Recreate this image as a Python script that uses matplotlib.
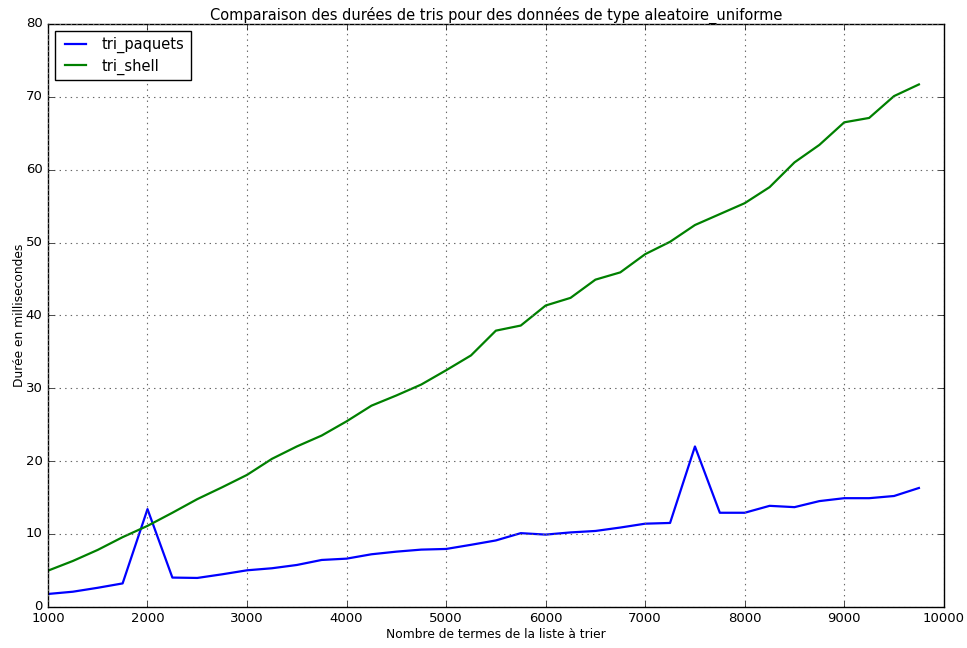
import matplotlib
matplotlib.use("Agg")
import matplotlib.pyplot as plt

plt.style.use("classic")

sizes = list(range(1000, 10000, 250))
tri_paquets = [1.75, 2.06, 2.6, 3.2, 13.4, 4.0, 3.95, 4.45, 5.0, 5.28, 5.73, 6.42,
               6.6, 7.2, 7.56, 7.84, 7.93, 8.5, 9.1, 10.1, 9.9, 10.2, 10.4, 10.87,
               11.4, 11.5, 22.0, 12.9, 12.9, 13.85, 13.67, 14.5, 14.9, 14.9, 15.2, 16.3]
tri_shell = [4.95, 6.28, 7.8, 9.55, 11.1, 12.9, 14.77, 16.4, 18.1, 20.3, 22.0, 23.5,
             25.45, 27.6, 29.0, 30.5, 32.46, 34.5, 37.9, 38.6, 41.35, 42.4, 44.9, 45.9,
             48.4, 50.1, 52.4, 53.9, 55.4, 57.6, 61.0, 63.4, 66.5, 67.1, 70.1, 71.7]

fig = plt.figure(figsize=(9.67, 6.48), dpi=100, facecolor="white")
ax = fig.add_axes([0.0496, 0.0637, 0.9264, 0.8993])
ax.set_facecolor("white")

ax.plot(sizes, tri_paquets, color="b", linewidth=1.6, label="tri_paquets")
ax.plot(sizes, tri_shell, color="g", linewidth=1.6, label="tri_shell")

ax.set_xlim(1000, 10000)
ax.set_ylim(0, 80)
ax.grid(True, linestyle=":", color="0.4", linewidth=0.8)
ax.tick_params(labelsize=9.5)
ax.set_title("Comparaison des durées de tris pour des données de type aleatoire_uniforme",
             fontsize=10.5, pad=3)
ax.set_xlabel("Nombre de termes de la liste à trier", fontsize=8.8, labelpad=2)
ax.set_ylabel("Durée en millisecondes", fontsize=8.8, labelpad=0)
leg = ax.legend(loc="upper left", fontsize=10.5, fancybox=False,
                labelspacing=0.35, borderaxespad=0.5)
leg.get_frame().set_edgecolor("black")

fig.savefig("out.png", dpi=100, facecolor="white")
